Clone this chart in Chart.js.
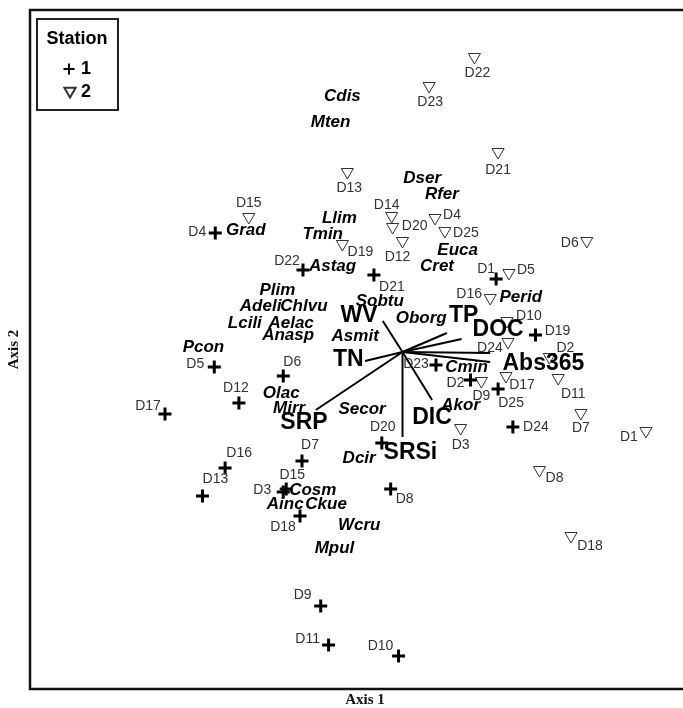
<!DOCTYPE html>
<html>
<head>
<meta charset="utf-8">
<script src="https://cdn.jsdelivr.net/npm/chart.js@4.4.0/dist/chart.umd.min.js"></script>
<style>
    html, body { margin: 0; padding: 0; background: #fff; }
    #wrap { width: 683px; height: 708px; position: relative; }
</style>
</head>
<body>
<div id="wrap"><canvas id="ordination"></canvas></div>
<script>
// Site scores, station 1 (plus markers)
const station1Names = ["D1", "D2", "D3", "D4", "D5", "D6", "D7", "D8", "D9", "D10", "D11", "D12", "D13",
    "D15", "D16", "D17", "D18", "D19", "D20", "D21", "D22", "D23", "D24", "D25"];
const station1X = [0.380, 0.276, -0.484, -0.760, -0.764, -0.484, -0.408, -0.048, -0.332, -0.016, -0.300, -0.664, -0.812,
    -0.472, -0.720, -0.964, -0.416, 0.540, -0.084, -0.116, -0.404, 0.136, 0.448, 0.388];
const station1Y = [0.292, -0.112, -0.560, 0.476, -0.060, -0.096, -0.436, -0.548, -1.016, -1.216, -1.172, -0.204, -0.576,
    -0.548, -0.464, -0.248, -0.656, 0.068, -0.364, 0.308, 0.328, -0.052, -0.300, -0.148];

// Site scores, station 2 (open triangles)
const station2Names = ["D1", "D2", "D3", "D4", "D5", "D6", "D7", "D8", "D9", "D10", "D11", "D12", "D13",
    "D14", "D15", "D16", "D17", "D18", "D19", "D20", "D21", "D22", "D23", "D24", "D25"];
const station2X = [0.988, 0.596, 0.236, 0.132, 0.432, 0.748, 0.724, 0.556, 0.320, 0.424, 0.632, 0.000, -0.224,
    -0.044, -0.624, 0.356, 0.420, 0.684, -0.244, -0.040, 0.388, 0.292, 0.108, 0.428, 0.172];
const station2Y = [-0.316, -0.020, -0.304, 0.536, 0.316, 0.444, -0.244, -0.472, -0.116, 0.124, -0.104, 0.444, 0.720,
    0.544, 0.540, 0.216, -0.096, -0.736, 0.432, 0.500, 0.800, 1.180, 1.064, 0.040, 0.484];

// Species scores
const speciesNames = ["Cdis", "Mten", "Dser", "Rfer", "Llim", "Tmin", "Grad", "Astag", "Euca", "Cret", "Sobtu", "Perid",
    "Plim", "Adeli", "Chlvu", "Lcili", "Aelac", "Anasp", "Pcon", "Oborg", "Asmit", "Cmin", "Akor", "Secor",
    "Olac", "Mirr", "Dcir", "Cosm", "Ainc", "Ckue", "Wcru", "Mpul"];
const speciesX = [-0.244, -0.292, 0.080, 0.160, -0.256, -0.324, -0.636, -0.284, 0.224, 0.140, -0.092, 0.480,
    -0.508, -0.576, -0.400, -0.640, -0.452, -0.464, -0.808, 0.076, -0.192, 0.260, 0.236, -0.164,
    -0.492, -0.460, -0.176, -0.364, -0.476, -0.310, -0.176, -0.276];
const speciesY = [1.024, 0.920, 0.696, 0.632, 0.536, 0.472, 0.488, 0.344, 0.408, 0.344, 0.204, 0.220,
    0.248, 0.184, 0.184, 0.116, 0.116, 0.068, 0.020, 0.136, 0.064, -0.060, -0.212, -0.228,
    -0.164, -0.224, -0.424, -0.552, -0.608, -0.608, -0.692, -0.784];

// Environmental vectors (tips) and where their names sit
const envNames = ["WV", "TP", "DOC", "Abs365", "", "TN", "SRP", "DIC", "SRSi"];
const envX = [-0.080, 0.180, 0.240, 0.356, 0.356, -0.152, -0.352, 0.120, 0.000];
const envY = [0.124, 0.076, 0.052, -0.040, -0.004, -0.036, -0.232, -0.192, -0.340];
const envLabelX = [-0.176, 0.248, 0.388, 0.572, 0.356, -0.220, -0.400, 0.120, 0.032];
const envLabelY = [0.144, 0.144, 0.088, -0.048, -0.004, -0.032, -0.284, -0.264, -0.404];

// label nudges in pixels (dx, dy) so site names don't sit on the markers
const station1Nudge = [[-10, -10], [-15, 3], [-21, -2], [-18, -1], [-19, -3], [9, -14], [8, -16], [14, 10], [-18, -11],
    [-18, -10], [-21, -6], [-3, -15], [13, -17], [6, -14], [14, -15], [-17, -8], [-17, 11], [22, -4], [1, -16],
    [18, 12], [-16, -9], [-20, -1], [23, 0], [13, 14]];
const station2Nudge = [[-17, 6], [16, -9], [0, 17], [17, -3], [17, -3], [-17, 2], [0, 15], [15, 8], [0, 15],
    [22, -5], [15, 16], [-5, 16], [2, 16], [-5, -11], [0, -14], [-21, -4], [16, 9], [19, 10], [18, 8], [22, -1],
    [0, 18], [3, 16], [1, 16], [-18, 6], [21, 2]];

const SANS = "'Liberation Sans', Arial, sans-serif";
const SERIF = "'Liberation Serif', 'Times New Roman', serif";

const toPoints = (xs, ys) => xs.map((x, i) => ({ x: x, y: ys[i] }));

// one line dataset per vector, drawn from the origin
const vectorDatasets = envX.map((x, i) => ({
    type: "line",
    label: "vec-" + i,
    data: [{ x: 0, y: 0 }, { x: x, y: envY[i] }],
    borderColor: "#000",
    borderWidth: 2,
    pointRadius: 0,
    showLine: true,
    fill: false
}));

const textLabelPlugin = {
    id: "textLabels",
    afterDatasetsDraw(chart) {
        const ctx = chart.ctx;
        chart.data.datasets.forEach((ds, di) => {
            if (!ds.textLabels) return;
            const meta = chart.getDatasetMeta(di);
            ctx.save();
            ctx.font = ds.textFont;
            ctx.fillStyle = ds.textColor;
            ctx.textAlign = "center";
            ctx.textBaseline = "middle";
            meta.data.forEach((el, i) => {
                const text = ds.textLabels[i];
                if (!text) return;
                const n = ds.nudges ? ds.nudges[i] : [0, 0];
                ctx.fillText(text, el.x + n[0], el.y + n[1]);
            });
            ctx.restore();
        });
    }
};

const framePlugin = {
    id: "frame",
    afterDraw(chart) {
        const ctx = chart.ctx;
        const a = chart.chartArea;
        ctx.save();
        ctx.strokeStyle = "#111";
        ctx.lineWidth = 2.5;
        ctx.beginPath();
        ctx.moveTo(chart.width, a.top);
        ctx.lineTo(a.left, a.top);
        ctx.lineTo(a.left, a.bottom);
        ctx.lineTo(chart.width, a.bottom);
        ctx.stroke();

        // axis titles (the plot box runs past the right edge of the canvas)
        ctx.fillStyle = "#111";
        ctx.font = "bold 15px " + SERIF;
        ctx.textAlign = "center";
        ctx.textBaseline = "middle";
        ctx.fillText("Axis 1", 365, a.bottom + 11);
        ctx.translate(14, (a.top + a.bottom) / 2);
        ctx.rotate(-Math.PI / 2);
        ctx.fillText("Axis 2", 0, 0);
        ctx.restore();

        // legend box
        ctx.save();
        ctx.strokeStyle = "#222";
        ctx.lineWidth = 2;
        ctx.strokeRect(37, 19, 81, 91);
        ctx.fillStyle = "#000";
        ctx.font = "bold 18px " + SANS;
        ctx.textAlign = "center";
        ctx.textBaseline = "middle";
        ctx.fillText("Station", 77, 39);
        ctx.textAlign = "left";
        const s1 = chart.data.datasets.find(d => d.label === "1");
        const s2 = chart.data.datasets.find(d => d.label === "2");
        ctx.fillText(s1.label, 81, 69);
        ctx.fillText(s2.label, 81, 92);
        ctx.strokeStyle = s1.borderColor;
        Chart.helpers.drawPoint(ctx, { pointStyle: "cross", radius: 5.5, borderWidth: 3, rotation: 0 }, 69, 69);
        ctx.strokeStyle = s2.borderColor;
        ctx.fillStyle = "rgba(0,0,0,0)";
        Chart.helpers.drawPoint(ctx, { pointStyle: "triangle", radius: 6.5, borderWidth: 1, rotation: 180 }, 70, 91);
        ctx.restore();
    }
};

new Chart(document.getElementById("ordination"), {
    type: "scatter",
    data: {
        datasets: [
            ...vectorDatasets,
            {
                label: "1",
                data: toPoints(station1X, station1Y),
                pointStyle: "cross",
                pointRadius: 6.5,
                borderWidth: 3,
                borderColor: "#000",
                textLabels: station1Names,
                nudges: station1Nudge,
                textFont: "14px " + SANS,
                textColor: "#333"
            },
            {
                label: "2",
                data: toPoints(station2X, station2Y),
                pointStyle: "triangle",
                rotation: 180,
                pointRadius: 7,
                borderWidth: 1,
                borderColor: "#333",
                backgroundColor: "rgba(0,0,0,0)",
                textLabels: station2Names,
                nudges: station2Nudge,
                textFont: "14px " + SANS,
                textColor: "#333"
            },
            {
                label: "species",
                data: toPoints(speciesX, speciesY),
                pointRadius: 0,
                textLabels: speciesNames,
                textFont: "italic bold 17px " + SANS,
                textColor: "#000"
            },
            {
                label: "env",
                data: toPoints(envLabelX, envLabelY),
                pointRadius: 0,
                textLabels: envNames,
                textFont: "bold 23px " + SANS,
                textColor: "#000"
            }
        ]
    },
    options: {
        responsive: true,
        maintainAspectRatio: false,
        animation: false,
        layout: { padding: { left: 30, top: 10, right: 0, bottom: 19 } },
        scales: {
            x: { type: "linear", min: -1.512, max: 1.1, display: false },
            y: { type: "linear", min: -1.348, max: 1.368, display: false }
        },
        plugins: {
            legend: { display: false },
            tooltip: { enabled: false }
        }
    },
    plugins: [textLabelPlugin, framePlugin]
});
</script>
</body>
</html>
